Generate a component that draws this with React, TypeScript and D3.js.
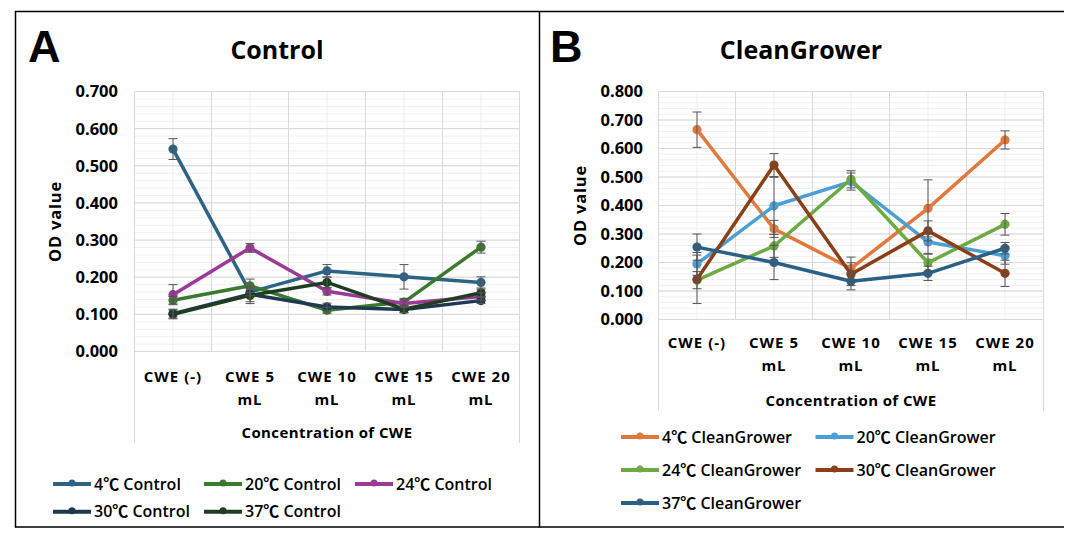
import * as d3 from 'd3';

const categories = ['CWE (-)', 'CWE 5 mL', 'CWE 10 mL', 'CWE 15 mL', 'CWE 20 mL'];

// panel A – Control
const controlNames = ['4℃ Control', '20℃ Control', '24℃ Control', '30℃ Control', '37℃ Control'];
const controlColors = ['#2E6385', '#3A7A2C', '#9A3996', '#1E3A51', '#1F3E21'];
const control4 = [0.545, 0.16, 0.217, 0.201, 0.186];
const control20 = [0.138, 0.177, 0.111, 0.133, 0.281];
const control24 = [0.153, 0.279, 0.162, 0.129, 0.148];
const control30 = [0.102, 0.154, 0.12, 0.113, 0.137];
const control37 = [0.1, 0.151, 0.186, 0.114, 0.158];
const control4Err = [0.028, 0.01, 0.017, 0.033, 0.015];
const control20Err = [0.01, 0.018, 0.008, 0.01, 0.016];
const control24Err = [0.027, 0.012, 0.01, 0.01, 0.01];
const control30Err = [0.012, 0.02, 0.01, 0.008, 0.008];
const control37Err = [0.012, 0.022, 0.015, 0.01, 0.01];

// panel B – CleanGrower
const cgNames = ['4℃ CleanGrower', '20℃ CleanGrower', '24℃ CleanGrower', '30℃ CleanGrower', '37℃ CleanGrower'];
const cgColors = ['#E1793C', '#4B9FD6', '#6CAA42', '#8A3F17', '#2A5F86'];
const cg4 = [0.666, 0.318, 0.179, 0.39, 0.63];
const cg20 = [0.195, 0.399, 0.484, 0.272, 0.224];
const cg24 = [0.138, 0.258, 0.492, 0.199, 0.334];
const cg30 = [0.141, 0.542, 0.159, 0.311, 0.162];
const cg37 = [0.254, 0.2, 0.134, 0.162, 0.25];
const cg4Err = [0.062, 0.03, 0.04, 0.1, 0.032];
const cg20Err = [0.04, 0.1, 0.03, 0.04, 0.03];
const cg24Err = [0.03, 0.04, 0.03, 0.03, 0.038];
const cg30Err = [0.085, 0.04, 0.04, 0.035, 0.046];
const cg37Err = [0.046, 0.06, 0.03, 0.025, 0.02];

const font = "'Open Sans', 'Noto Sans CJK KR', sans-serif";

type Series = { name: string; color: string; values: number[]; err: number[] };

const makeSeries = (names: string[], colors: string[], vals: number[][], errs: number[][]): Series[] =>
  names.map((name, i) => ({ name, color: colors[i], values: vals[i], err: errs[i] }));

const controlSeries = makeSeries(
  controlNames,
  controlColors,
  [control4, control20, control24, control30, control37],
  [control4Err, control20Err, control24Err, control30Err, control37Err]
);
const cgSeries = makeSeries(
  cgNames,
  cgColors,
  [cg4, cg20, cg24, cg30, cg37],
  [cg4Err, cg20Err, cg24Err, cg30Err, cg37Err]
);

const splitLabel = (c: string) => (c.endsWith(' mL') ? [c.slice(0, -3), 'mL'] : [c]);

type PanelProps = {
  letter: string;
  letterX: number;
  title: string;
  titleX: number;
  series: Series[];
  yMax: number;
  left: number;
  right: number;
  top: number;
  bottom: number;
  frameBottom: number;
  tickX: number;
  yTitleX: number;
  catY: number;
  axisTitleY: number;
  legend: { x: number; y: number; colStep: number; rowStep: number; cols: number };
};

const Panel = (p: PanelProps) => {
  const x = d3.scaleBand<string>().domain(categories).range([p.left, p.right]).padding(0);
  const y = d3.scaleLinear().domain([0, p.yMax]).range([p.bottom, p.top]);
  const bw = x.bandwidth();
  const cx = (c: string) => (x(c) ?? 0) + bw / 2;
  const majorTicks = d3.range(0, p.yMax + 1e-9, 0.1);
  const minorTicks = d3.range(0, p.yMax + 1e-9, 0.02);
  const line = d3
    .line<number>()
    .x((_, i) => cx(categories[i]))
    .y((d) => y(d));

  return (
    <g>
      <text x={p.letterX} y={62} fontFamily="'Liberation Sans', Arial, sans-serif" fontWeight="bold" fontSize={45}>
        {p.letter}
      </text>
      <text x={p.titleX} y={59} textAnchor="middle" fontFamily={font} fontWeight="bold" fontSize={25}>
        {p.title}
      </text>

      {/* minor grid */}
      {minorTicks.map((t, i) => (
        <line key={'mn' + i} x1={p.left} x2={p.right} y1={y(t)} y2={y(t)} stroke="#F0F0F0" strokeWidth={1} />
      ))}
      {categories.map((c) => (
        <line key={'mv' + c} x1={cx(c)} x2={cx(c)} y1={p.top} y2={p.bottom} stroke="#EEEEEE" strokeWidth={1} />
      ))}
      {/* major grid */}
      {majorTicks.map((t, i) => (
        <line key={'mj' + i} x1={p.left} x2={p.right} y1={y(t)} y2={y(t)} stroke="#D9D9D9" strokeWidth={1} />
      ))}
      {categories.slice(1).map((c) => (
        <line key={'bv' + c} x1={x(c)} x2={x(c)} y1={p.top} y2={p.bottom} stroke="#D9D9D9" strokeWidth={1} />
      ))}
      <line x1={p.left} x2={p.left} y1={p.top} y2={p.frameBottom} stroke="#D9D9D9" strokeWidth={1} />
      <line x1={p.right} x2={p.right} y1={p.top} y2={p.frameBottom} stroke="#D9D9D9" strokeWidth={1} />

      {/* y tick labels */}
      {majorTicks.map((t, i) => (
        <text
          key={'yt' + i}
          x={p.tickX}
          y={y(t)}
          dy="0.36em"
          textAnchor="end"
          fontFamily={font}
          fontWeight="bold"
          fontSize={16.5}
        >
          {d3.format('.3f')(t)}
        </text>
      ))}
      <text
        transform={`translate(${p.yTitleX},${(p.top + p.bottom) / 2}) rotate(-90)`}
        textAnchor="middle"
        dy="0.36em"
        fontFamily={font}
        fontWeight="bold"
        fontSize={16.5}
        letterSpacing={0.8}
      >
        OD value
      </text>

      {/* category labels */}
      {categories.map((c) =>
        splitLabel(c).map((s, j) => (
          <text
            key={c + j}
            x={cx(c)}
            y={p.catY + j * 22.5}
            dy="0.36em"
            textAnchor="middle"
            fontFamily={font}
            fontWeight="bold"
            fontSize={15}
            letterSpacing={1}
          >
            {s}
          </text>
        ))
      )}
      <text
        x={(p.left + p.right) / 2}
        y={p.axisTitleY}
        dy="0.36em"
        textAnchor="middle"
        fontFamily={font}
        fontWeight="bold"
        fontSize={15}
        letterSpacing={0.4}
      >
        Concentration of CWE
      </text>

      {/* series */}
      {p.series.map((s) => (
        <g key={s.name}>
          <path d={line(s.values) ?? ''} fill="none" stroke={s.color} strokeWidth={3.5} strokeLinejoin="round" />
          {s.values.map((v, i) => (
            <circle key={i} cx={cx(categories[i])} cy={y(v)} r={4.6} fill={s.color} />
          ))}
        </g>
      ))}
      {/* error bars */}
      {p.series.map((s) =>
        s.values.map((v, i) => {
          const px = cx(categories[i]);
          const y1 = y(v + s.err[i]);
          const y2 = y(Math.max(0, v - s.err[i]));
          return (
            <g key={s.name + 'e' + i} stroke="#555555" strokeWidth={1}>
              <line x1={px} x2={px} y1={y1} y2={y2} />
              <line x1={px - 4.5} x2={px + 4.5} y1={y1} y2={y1} />
              <line x1={px - 4.5} x2={px + 4.5} y1={y2} y2={y2} />
            </g>
          );
        })
      )}

      {/* legend */}
      {p.series.map((s, i) => {
        const lx = p.legend.x + (i % p.legend.cols) * p.legend.colStep;
        const ly = p.legend.y + Math.floor(i / p.legend.cols) * p.legend.rowStep;
        return (
          <g key={'lg' + s.name}>
            <line x1={lx} x2={lx + 38} y1={ly} y2={ly} stroke={s.color} strokeWidth={4} />
            <circle cx={lx + 19} cy={ly - 1} r={3.5} fill={s.color} />
            <text x={lx + 41} y={ly} dy="0.36em" fontFamily={font} fontWeight={600} fontSize={16}>
              {s.name}
            </text>
          </g>
        );
      })}
    </g>
  );
};

export default function App() {
  return (
    <svg
      width={1082}
      height={546}
      style={{ position: 'absolute', left: 0, top: 0, background: '#fff' }}
    >
      <rect width={1082} height={546} fill="#fff" />
      {/* frame */}
      <line x1={15} x2={1064} y1={11.5} y2={11.5} stroke="#000" strokeWidth={1.5} />
      <line x1={15} x2={1064} y1={527} y2={527} stroke="#000" strokeWidth={1.5} />
      <line x1={15.5} x2={15.5} y1={11} y2={527.5} stroke="#000" strokeWidth={1.5} />
      <line x1={539.5} x2={539.5} y1={11} y2={527.5} stroke="#000" strokeWidth={1.5} />

      <Panel
        letter="A"
        letterX={28}
        title="Control"
        titleX={277}
        series={controlSeries}
        yMax={0.7}
        left={134.5}
        right={519.5}
        top={91.5}
        bottom={351.5}
        frameBottom={443}
        tickX={118}
        yTitleX={55}
        catY={377}
        axisTitleY={433}
        legend={{ x: 53, y: 484, colStep: 151, rowStep: 27.7, cols: 3 }}
      />
      <Panel
        letter="B"
        letterX={550}
        title="CleanGrower"
        titleX={801}
        series={cgSeries}
        yMax={0.8}
        left={658.5}
        right={1043.5}
        top={91.5}
        bottom={319.5}
        frameBottom={410.5}
        tickX={643}
        yTitleX={580}
        catY={343}
        axisTitleY={400.5}
        legend={{ x: 621, y: 437, colStep: 194.5, rowStep: 33, cols: 2 }}
      />
    </svg>
  );
}
